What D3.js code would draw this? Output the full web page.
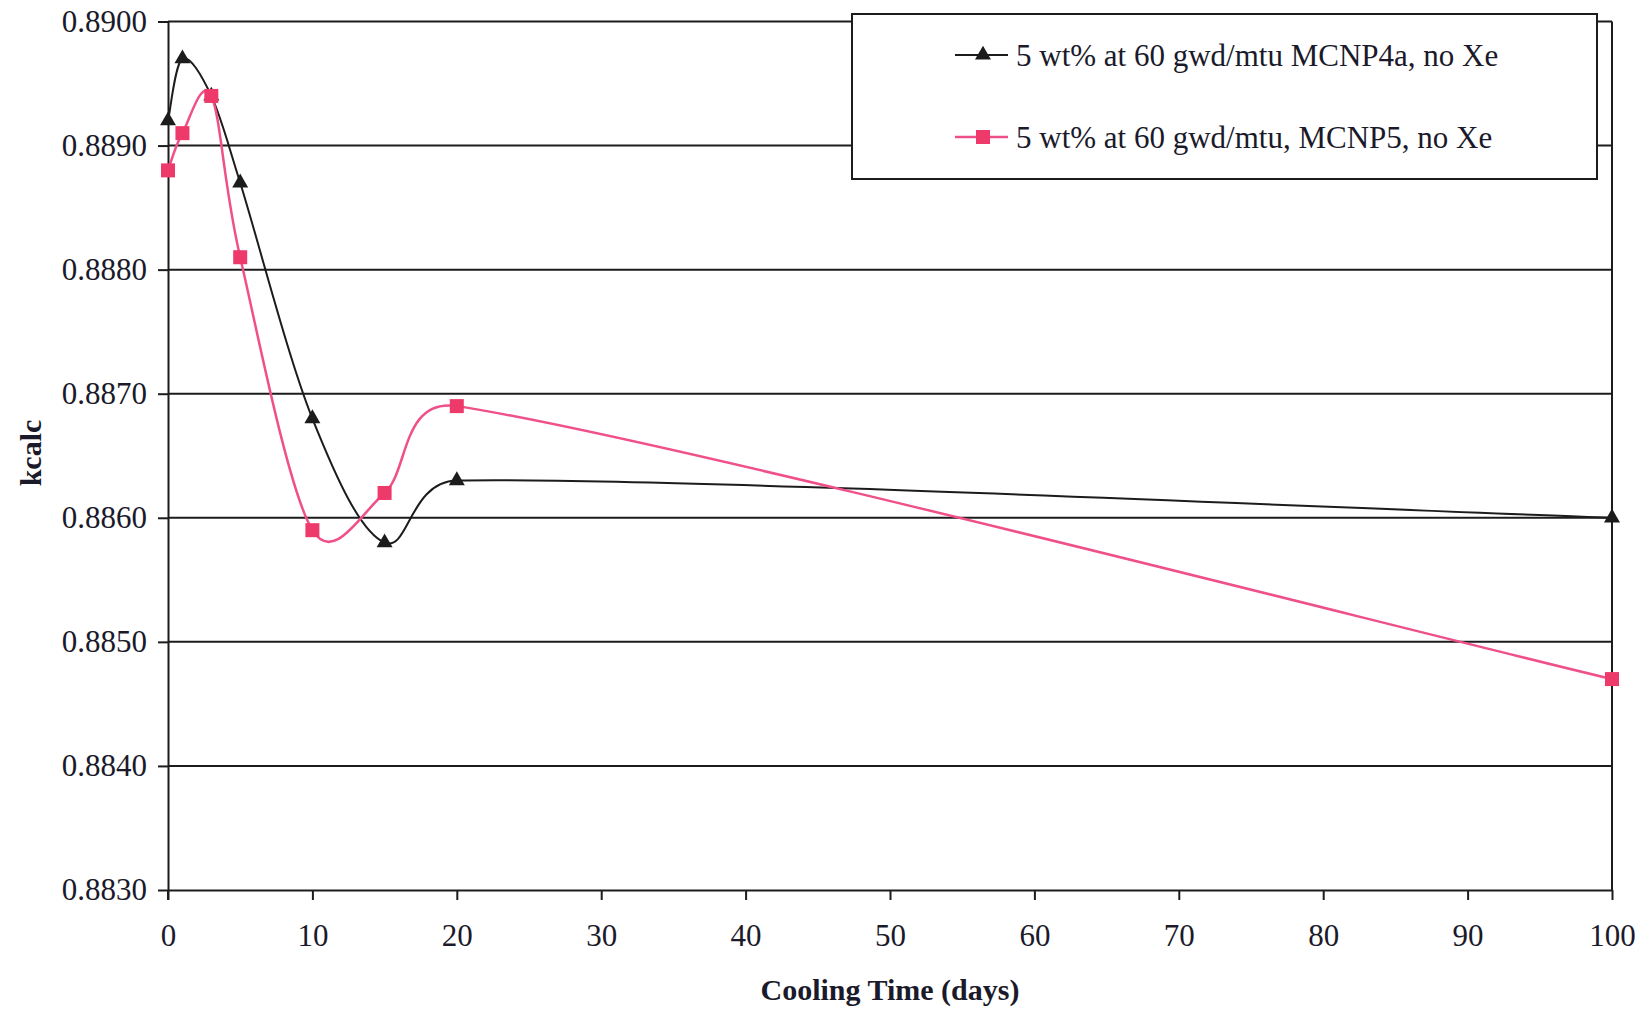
<!DOCTYPE html>
<html>
<head>
<meta charset="utf-8">
<script src="https://cdn.jsdelivr.net/npm/d3@7/dist/d3.min.js"></script>
<style>
  html, body { margin: 0; padding: 0; background: #fff; }
  svg { display: block; }
  text { font-family: "Liberation Serif", "Times New Roman", serif; fill: #1a1a2a; }
</style>
</head>
<body>
<svg id="chart" width="1650" height="1011"></svg>
<script>
// ---- data ----
const coolingDays = [0, 1, 3, 5, 10, 15, 20, 100];
const mcnp4aValues = [0.8892, 0.8897, 0.8894, 0.8887, 0.8868, 0.8858, 0.8863, 0.8860];
const mcnp5Values  = [0.8888, 0.8891, 0.8894, 0.8881, 0.8859, 0.8862, 0.8869, 0.8847];
const seriesNames = ["5 wt% at 60 gwd/mtu MCNP4a, no Xe", "5 wt% at 60 gwd/mtu, MCNP5, no Xe"];
const xTicks = [0, 10, 20, 30, 40, 50, 60, 70, 80, 90, 100];
const yTicks = [0.8830, 0.8840, 0.8850, 0.8860, 0.8870, 0.8880, 0.8890, 0.8900];
const xTitle = "Cooling Time (days)";
const yTitle = "kcalc";

// spreadsheet-style smoothed line: Bezier segments, Catmull-Rom tangents (1/6),
// control arms clamped to half of each segment's length
function smoothCurve(context) {
  let pts;
  return {
    areaStart() {}, areaEnd() {},
    lineStart() { pts = []; },
    point(x, y) { pts.push([+x, +y]); },
    lineEnd() {
      const n = pts.length;
      if (!n) return;
      context.moveTo(pts[0][0], pts[0][1]);
      for (let i = 0; i < n - 1; i++) {
        const p0 = pts[Math.max(i - 1, 0)], p1 = pts[i], p2 = pts[i + 1], p3 = pts[Math.min(i + 2, n - 1)];
        const len = Math.hypot(p2[0] - p1[0], p2[1] - p1[1]);
        let a1 = [(p2[0] - p0[0]) / 6, (p2[1] - p0[1]) / 6];
        let a2 = [(p3[0] - p1[0]) / 6, (p3[1] - p1[1]) / 6];
        const l1 = Math.hypot(a1[0], a1[1]), l2 = Math.hypot(a2[0], a2[1]);
        const lim = len * 0.5;
        if (l1 > lim) a1 = [a1[0] * lim / l1, a1[1] * lim / l1];
        if (l2 > lim) a2 = [a2[0] * lim / l2, a2[1] * lim / l2];
        context.bezierCurveTo(p1[0] + a1[0], p1[1] + a1[1], p2[0] - a2[0], p2[1] - a2[1], p2[0], p2[1]);
      }
    }
  };
}

// ---- layout ----
const svg = d3.select("#chart");
const L = 168, R = 1612, T = 21.5, B = 890;
const x = d3.scaleLinear().domain([0, 100]).range([L, R]);
const y = d3.scaleLinear().domain([0.8830, 0.8900]).range([B, T]);
const ink = "#1c1c1c";
const pinkLine = "#f0508a";
const pinkMark = "#ee3a6a";

// gridlines
svg.append("g").selectAll("line").data(yTicks.slice(1)).join("line")
  .attr("x1", L).attr("x2", R)
  .attr("y1", d => y(d)).attr("y2", d => y(d))
  .attr("stroke", ink).attr("stroke-width", 2);

// right border
svg.append("line").attr("x1", R).attr("x2", R).attr("y1", T).attr("y2", B)
  .attr("stroke", ink).attr("stroke-width", 2);

// x axis
const xAxis = svg.append("g").attr("transform", `translate(0,${B})`)
  .call(d3.axisBottom(x).tickValues(xTicks).tickSize(10).tickPadding(24).tickSizeOuter(0)
        .tickFormat(d3.format("d")));
xAxis.select(".domain").attr("stroke", ink).attr("stroke-width", 2);
xAxis.selectAll(".tick line").attr("stroke", ink).attr("stroke-width", 2);
xAxis.selectAll(".tick text").attr("font-size", 31)
  .attr("font-family", "'Liberation Serif', serif").attr("fill", "#1a1a2a");

// y axis
const yAxis = svg.append("g").attr("transform", `translate(${L},0)`)
  .call(d3.axisLeft(y).tickValues(yTicks).tickSize(10).tickPadding(11).tickSizeOuter(0)
        .tickFormat(d3.format(".4f")));
yAxis.select(".domain").attr("stroke", ink).attr("stroke-width", 2);
yAxis.selectAll(".tick line").attr("stroke", ink).attr("stroke-width", 2);
yAxis.selectAll(".tick text").attr("font-size", 31)
  .attr("font-family", "'Liberation Serif', serif").attr("fill", "#1a1a2a");
svg.append("line").attr("x1", L).attr("x2", L).attr("y1", B).attr("y2", B + 10)
  .attr("stroke", ink).attr("stroke-width", 2);

// axis titles
svg.append("text").attr("x", 890).attr("y", 1000)
  .attr("text-anchor", "middle").attr("font-size", 30).attr("font-weight", "bold")
  .text(xTitle);
svg.append("text").attr("transform", "translate(41,453) rotate(-90)")
  .attr("text-anchor", "middle").attr("font-size", 30).attr("font-weight", "bold")
  .text(yTitle);

// lines
const line = d3.line().x(d => x(d[0])).y(d => y(d[1])).curve(smoothCurve);
const blackPts = coolingDays.map((d, i) => [d, mcnp4aValues[i]]);
const pinkPts = coolingDays.map((d, i) => [d, mcnp5Values[i]]);

svg.append("path").datum(blackPts).attr("d", line)
  .attr("fill", "none").attr("stroke", ink).attr("stroke-width", 2);
svg.append("path").datum(pinkPts).attr("d", line)
  .attr("fill", "none").attr("stroke", pinkLine).attr("stroke-width", 2.5);

const tri = d3.symbol().type(d3.symbolTriangle).size(110);
svg.append("g").selectAll("path").data(blackPts).join("path")
  .attr("d", tri)
  .attr("transform", d => `translate(${x(d[0])},${y(d[1])})`)
  .attr("fill", ink);

svg.append("g").selectAll("rect").data(pinkPts).join("rect")
  .attr("x", d => x(d[0]) - 7).attr("y", d => y(d[1]) - 7)
  .attr("width", 14).attr("height", 14)
  .attr("fill", pinkMark);

// legend
const lg = svg.append("g");
lg.append("rect").attr("x", 852).attr("y", 14).attr("width", 745).attr("height", 165)
  .attr("fill", "#fff").attr("stroke", ink).attr("stroke-width", 2);
const legY = [55, 137];
lg.append("line").attr("x1", 955).attr("x2", 1008).attr("y1", legY[0]).attr("y2", legY[0])
  .attr("stroke", ink).attr("stroke-width", 2);
lg.append("path").attr("d", tri).attr("transform", `translate(983,${legY[0]})`).attr("fill", ink);
lg.append("text").attr("x", 1016).attr("y", legY[0] + 11).attr("font-size", 31).text(seriesNames[0]);
lg.append("line").attr("x1", 955).attr("x2", 1008).attr("y1", legY[1]).attr("y2", legY[1])
  .attr("stroke", pinkLine).attr("stroke-width", 2.5);
lg.append("rect").attr("x", 976).attr("y", legY[1] - 7).attr("width", 14).attr("height", 14).attr("fill", pinkMark);
lg.append("text").attr("x", 1016).attr("y", legY[1] + 11).attr("font-size", 31).text(seriesNames[1]);
</script>
</body>
</html>
